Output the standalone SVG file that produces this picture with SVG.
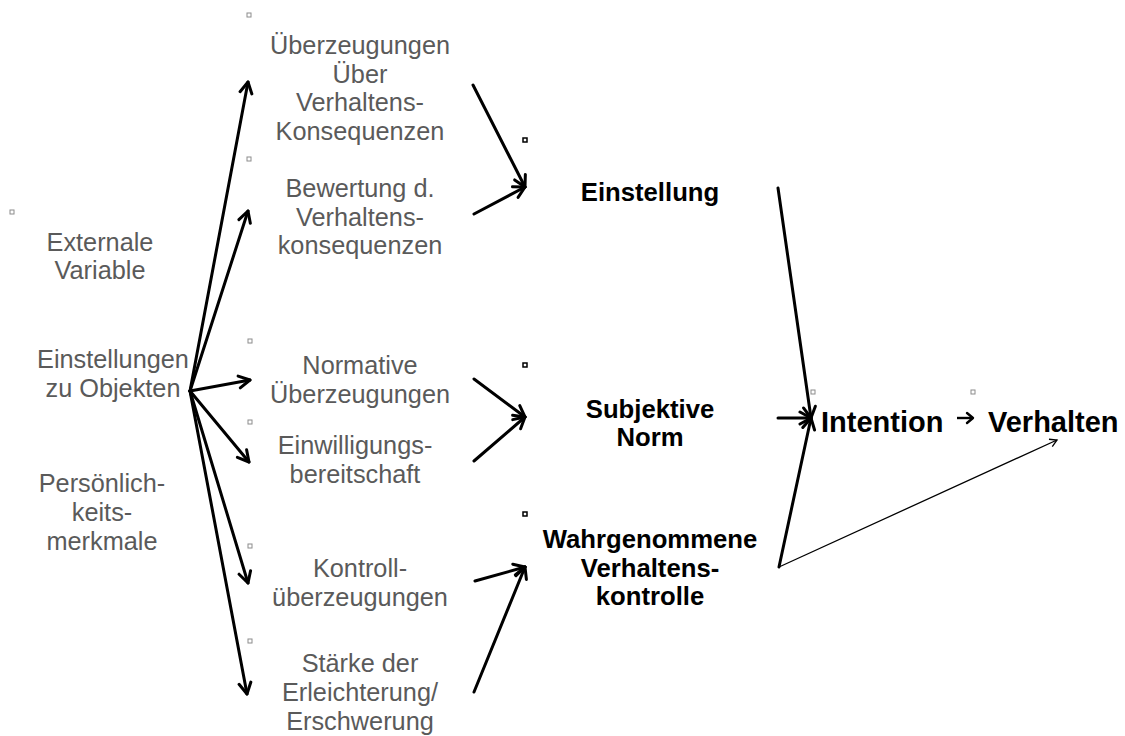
<svg xmlns="http://www.w3.org/2000/svg" width="1125" height="736" viewBox="0 0 1125 736">
<style>
.g{font-family:"Liberation Sans",Arial,sans-serif;font-size:25.3px;fill:#5a5a5a;text-anchor:middle}
.b{font-family:"Liberation Sans",Arial,sans-serif;font-size:25.7px;font-weight:bold;fill:#000;text-anchor:middle}
.bb{font-family:"Liberation Sans",Arial,sans-serif;font-size:29px;font-weight:bold;fill:#000}
.c{stroke:#000;stroke-width:3;fill:none;stroke-linecap:round}
.t{stroke:#000;stroke-width:1.3;fill:none}
.sq{fill:#fff;stroke:#8c8c8c;stroke-width:1}
.sqb{fill:#fff;stroke:#000;stroke-width:1.5}
</style>
<defs>
<marker id="ah" markerUnits="userSpaceOnUse" markerWidth="16" markerHeight="16" refX="13" refY="8" orient="auto" viewBox="0 0 16 16">
<path d="M2,2 L13,8 L2,14" fill="none" stroke="#000" stroke-width="3" stroke-linecap="round" stroke-linejoin="round"/>
</marker>
<marker id="ahm" markerUnits="userSpaceOnUse" markerWidth="14" markerHeight="14" refX="11" refY="7" orient="auto" viewBox="0 0 14 14">
<path d="M5,2 L11,7 L5,12" fill="none" stroke="#000" stroke-width="2.4" stroke-linecap="round" stroke-linejoin="round"/>
</marker>
<marker id="ahs" markerUnits="userSpaceOnUse" markerWidth="12" markerHeight="12" refX="9" refY="6" orient="auto" viewBox="0 0 12 12">
<path d="M2,2 L9,6 L2,10" fill="none" stroke="#000" stroke-width="1.3"/>
</marker>
</defs>

<g id="bullets">
<rect class="sq" x="247" y="13" width="4" height="4"/>
<rect class="sq" x="247" y="157" width="4" height="4"/>
<rect class="sq" x="10" y="210" width="4" height="4"/>
<rect class="sq" x="248" y="339" width="4" height="4"/>
<rect class="sq" x="248" y="420" width="4" height="4"/>
<rect class="sq" x="248" y="544" width="4" height="4"/>
<rect class="sq" x="248" y="639" width="4" height="4"/>
<rect class="sqb" x="523" y="138" width="4" height="4"/>
<rect class="sqb" x="523" y="363" width="4" height="4"/>
<rect class="sqb" x="523" y="512" width="4" height="4"/>
<rect class="sq" x="811" y="390" width="4" height="4"/>
<rect class="sq" x="971" y="390" width="4" height="4"/>
</g>

<g id="connectors">
<line class="c" x1="190" y1="391" x2="248" y2="82" marker-end="url(#ah)"/>
<line class="c" x1="190" y1="391" x2="248" y2="211" marker-end="url(#ah)"/>
<line class="c" x1="190" y1="391" x2="250" y2="380" marker-end="url(#ah)"/>
<line class="c" x1="190" y1="391" x2="249" y2="462" marker-end="url(#ah)"/>
<line class="c" x1="190" y1="391" x2="248" y2="583" marker-end="url(#ah)"/>
<line class="c" x1="190" y1="391" x2="247" y2="694" marker-end="url(#ah)"/>
<line class="c" x1="473" y1="85" x2="525" y2="187" marker-end="url(#ah)"/>
<line class="c" x1="474" y1="214" x2="525" y2="187" marker-end="url(#ah)"/>
<line class="c" x1="474" y1="379" x2="525" y2="417" marker-end="url(#ah)"/>
<line class="c" x1="474" y1="461" x2="525" y2="417" marker-end="url(#ah)"/>
<line class="c" x1="475" y1="581" x2="525" y2="567" marker-end="url(#ah)"/>
<line class="c" x1="474" y1="692" x2="525" y2="567" marker-end="url(#ah)"/>
<line class="c" x1="778" y1="188" x2="811" y2="418" marker-end="url(#ah)"/>
<line class="c" x1="778" y1="418" x2="811" y2="418" marker-end="url(#ah)"/>
<line class="c" x1="779" y1="567" x2="811" y2="418" marker-end="url(#ah)"/>
<line class="t" x1="779" y1="567" x2="1057" y2="440" marker-end="url(#ahs)"/>
<line x1="957" y1="418" x2="973" y2="418" stroke="#000" stroke-width="2.4" marker-end="url(#ahm)"/>
</g>

<g id="n-ueberzeugungen"><text class="g"><tspan x="360" y="54">Überzeugungen</tspan><tspan x="360" y="83">Über</tspan><tspan x="360" y="111">Verhaltens-</tspan><tspan x="360" y="140">Konsequenzen</tspan></text></g>
<g id="n-bewertung"><text class="g"><tspan x="360" y="197">Bewertung d.</tspan><tspan x="360" y="226">Verhaltens-</tspan><tspan x="360" y="254">konsequenzen</tspan></text></g>
<g id="n-externale"><text class="g"><tspan x="100" y="251">Externale</tspan><tspan x="100" y="279">Variable</tspan></text></g>
<g id="n-einstellungen"><text class="g"><tspan x="113" y="368">Einstellungen</tspan><tspan x="113" y="397">zu Objekten</tspan></text></g>
<g id="n-persoenlich"><text class="g"><tspan x="102" y="492">Persönlich-</tspan><tspan x="102" y="521">keits-</tspan><tspan x="102" y="550">merkmale</tspan></text></g>
<g id="n-normative"><text class="g"><tspan x="360" y="374">Normative</tspan><tspan x="360" y="403">Überzeugungen</tspan></text></g>
<g id="n-einwilligung"><text class="g"><tspan x="355" y="454">Einwilligungs-</tspan><tspan x="355" y="483">bereitschaft</tspan></text></g>
<g id="n-kontroll"><text class="g"><tspan x="360" y="577">Kontroll-</tspan><tspan x="360" y="606">überzeugungen</tspan></text></g>
<g id="n-staerke"><text class="g"><tspan x="360" y="672">Stärke der</tspan><tspan x="360" y="701">Erleichterung/</tspan><tspan x="360" y="730">Erschwerung</tspan></text></g>

<g id="n-einstellung"><text class="b"><tspan x="650" y="201">Einstellung</tspan></text></g>
<g id="n-subjektive"><text class="b"><tspan x="650" y="418">Subjektive</tspan><tspan x="650" y="446">Norm</tspan></text></g>
<g id="n-wahrgenommene"><text class="b"><tspan x="650" y="548">Wahrgenommene</tspan><tspan x="650" y="577">Verhaltens-</tspan><tspan x="650" y="605">kontrolle</tspan></text></g>
<g id="n-intention"><text class="bb" x="821" y="432">Intention</text></g>
<g id="n-verhalten"><text class="bb" x="988" y="432">Verhalten</text></g>
</svg>
